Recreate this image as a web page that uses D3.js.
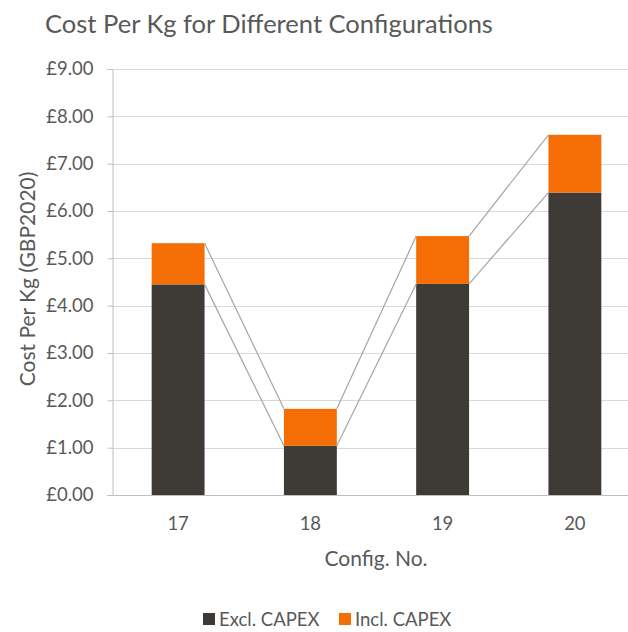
<!DOCTYPE html>
<html>
<head>
<meta charset="utf-8">
<script src="https://cdn.jsdelivr.net/npm/d3@7"></script>
<style>
  html, body { margin: 0; padding: 0; background: #fff; }
  text { font-family: Lato, "Open Sans", sans-serif; fill: #595959; }
</style>
</head>
<body>
<svg id="chart" width="628" height="632"></svg>
<script>
// Configurations and cost components (GBP2020 per kg)
const configs = ["17", "18", "19", "20"];
const exclCapex = [4.45, 1.04, 4.46, 6.39];
const capexShare = [0.87, 0.78, 1.01, 1.22];
const seriesNames = ["Excl. CAPEX", "Incl. CAPEX"];
const seriesColors = ["#3e3b36", "#f46d05"];
const yTicks = [0, 1, 2, 3, 4, 5, 6, 7, 8, 9];

(function draw() {
  const svg = d3.select("#chart");
  const W = 628;
  const plotLeft = 112, plotTop = 69, plotBottom = 495, plotRight = 641;
  const labelSize = "18.5px";

  const rows = configs.map((c, i) => ({ config: c, excl: exclCapex[i], capex: capexShare[i] }));
  const stack = d3.stack().keys(["excl", "capex"])(rows);

  const x = d3.scaleBand().domain(configs).range([plotLeft, plotRight]).paddingInner(0.6).paddingOuter(0.3);
  const y = d3.scaleLinear().domain([0, 9]).range([plotBottom, plotTop]);

  // Title
  svg.append("text")
    .attr("x", 269).attr("y", 33)
    .attr("text-anchor", "middle")
    .style("font-size", "25.5px")
    .text("Cost Per Kg for Different Configurations");

  // Gridlines
  svg.append("g").selectAll("line").data(yTicks.filter(d => d > 0)).join("line")
    .attr("x1", plotLeft).attr("x2", W)
    .attr("y1", d => Math.round(y(d)) + 0.5).attr("y2", d => Math.round(y(d)) + 0.5)
    .attr("stroke", "#d9d9d9").attr("stroke-width", 1);

  // Y axis
  const yAxis = svg.append("g")
    .attr("transform", `translate(${plotLeft + 0.5},0)`)
    .call(d3.axisLeft(y).tickValues(yTicks).tickSize(5).tickPadding(14)
      .tickFormat(d => "£" + d3.format(".2f")(d)));
  yAxis.select(".domain").attr("stroke", "#bfbfbf");
  yAxis.selectAll(".tick line").attr("stroke", "#bfbfbf");
  yAxis.selectAll(".tick text").style("font-size", labelSize).attr("fill", "#595959")
    .style("font-family", "Lato, 'Open Sans', sans-serif");

  // Bars
  const layers = svg.append("g").selectAll("g").data(stack).join("g")
    .attr("fill", (d, i) => seriesColors[i]);
  layers.selectAll("rect").data(d => d).join("rect")
    .attr("x", d => x(d.data.config))
    .attr("width", x.bandwidth())
    .attr("y", d => y(d[1]))
    .attr("height", d => y(d[0]) - y(d[1]));

  // Series lines linking the tops of adjacent stacked segments
  stack.forEach(layer => {
    const segs = d3.pairs(layer);
    svg.append("g").selectAll("line").data(segs).join("line")
      .attr("x1", d => x(d[0].data.config) + x.bandwidth())
      .attr("y1", d => y(d[0][1]))
      .attr("x2", d => x(d[1].data.config))
      .attr("y2", d => y(d[1][1]))
      .attr("stroke", "#a5a5a5").attr("stroke-width", 1.2);
  });

  // X axis baseline and labels
  svg.append("line")
    .attr("x1", plotLeft).attr("x2", W)
    .attr("y1", plotBottom + 0.5).attr("y2", plotBottom + 0.5)
    .attr("stroke", "#bfbfbf");
  svg.append("g").selectAll("text").data(configs).join("text")
    .attr("x", d => x(d) + x.bandwidth() / 2)
    .attr("y", 530)
    .attr("text-anchor", "middle")
    .style("font-size", labelSize)
    .text(d => d);

  // Axis titles
  svg.append("text")
    .attr("x", 376).attr("y", 566)
    .attr("text-anchor", "middle")
    .style("font-size", "21px")
    .text("Config. No.");
  svg.append("text")
    .attr("transform", "translate(35,279) rotate(-90)")
    .attr("text-anchor", "middle")
    .style("font-size", "21px")
    .text("Cost Per Kg (GBP2020)");

  // Legend
  const legendX = [203, 339];
  const legend = svg.append("g").selectAll("g").data(seriesNames).join("g")
    .attr("transform", (d, i) => `translate(${legendX[i]},613)`);
  legend.append("rect").attr("width", 12).attr("height", 12)
    .attr("fill", (d, i) => seriesColors[i]);
  legend.append("text").attr("x", 16).attr("y", 13)
    .style("font-size", labelSize)
    .text(d => d);
})();
</script>
</body>
</html>
